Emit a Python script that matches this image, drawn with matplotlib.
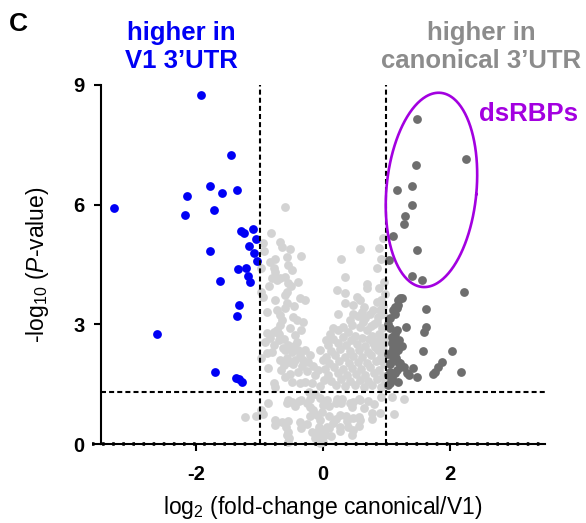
import matplotlib
matplotlib.use("Agg")
import matplotlib.pyplot as plt
import numpy as np

plt.rcParams['font.family'] = ['Liberation Sans', 'DejaVu Sans']
plt.rcParams['mathtext.fontset'] = 'custom'
plt.rcParams['mathtext.rm'] = 'Liberation Sans'
plt.rcParams['mathtext.it'] = 'Liberation Sans:italic'
plt.rcParams['mathtext.bf'] = 'Liberation Sans:bold'
plt.rcParams['axes.unicode_minus'] = False

# ---------------- data (log2 fold change, -log10 P) ----------------
blue_x = [-1.93, -1.45, -1.78, -2.15, -1.59, -1.36, -3.29, -2.17, -1.72, -1.29,
          -1.25, -1.10, -1.06, -1.17, -1.08, -1.04, -1.78, -1.34, -1.21, -1.19,
          -1.15, -1.62, -1.33, -1.35, -2.61, -1.70, -1.37, -1.32, -1.27]
blue_y = [8.74, 7.25, 6.47, 6.22, 6.30, 6.37, 5.91, 5.75, 5.86, 5.34,
          5.28, 5.39, 5.14, 4.96, 4.78, 4.58, 4.85, 4.39, 4.41, 4.20,
          4.05, 4.09, 3.48, 3.22, 2.75, 1.81, 1.66, 1.62, 1.56]

dark_x = [1.48, 2.25, 1.46, 1.40, 1.17, 1.40, 1.30, 1.28, 1.10, 1.48,
          1.41, 1.56, 1.04, 2.22, 1.21, 1.25, 1.18, 1.13, 1.11, 1.16,
          1.62, 1.06, 1.31, 1.62, 1.60, 1.14, 1.10, 1.08, 1.11, 1.57,
          2.04, 1.08, 1.13, 1.03, 1.19, 1.21, 1.27, 1.42, 1.87, 1.82,
          1.76, 1.73, 2.18, 1.32, 1.36, 1.48, 1.06, 1.13, 1.03, 1.05,
          1.19, 1.16, 1.08, 1.13, 1.19, 1.11, 1.06, 1.16, 1.08, 1.02,
          1.05, 1.20, 1.25, 1.15, 1.22, 1.05, 1.09, 1.18, 1.02, 1.14]
dark_y = [8.14, 7.15, 6.99, 6.47, 6.37, 5.99, 5.72, 5.51, 5.22, 4.87,
          4.20, 4.11, 4.61, 3.81, 3.65, 3.66, 3.60, 3.44, 3.36, 3.40,
          3.38, 3.15, 2.94, 2.94, 2.80, 2.75, 2.65, 2.52, 2.40, 2.32,
          2.32, 2.30, 2.27, 2.25, 2.06, 2.02, 1.94, 1.90, 2.05, 1.94,
          1.81, 1.75, 1.80, 1.77, 1.72, 1.69, 1.81, 1.77, 1.48, 1.52,
          3.48, 2.86, 2.69, 2.52, 2.36, 2.19, 2.02, 1.85, 1.66, 3.00,
          2.90, 2.60, 2.45, 2.15, 1.92, 2.00, 1.60, 1.55, 1.72, 3.25]

# light grey, left arm
lgA_x = [-0.60, -0.82, -0.68, -0.65, -0.52, -0.35, -0.76, -0.83, -0.56, -0.55,
         -0.49, -0.97, -0.78, -0.76, -0.81, -0.73, -0.68, -0.60, -0.39, -0.55,
         -0.97, -0.94, -0.57, -0.60, -0.36, -0.28, -0.57, -0.60, -0.68, -0.47,
         -0.41, -0.31, -0.68, -0.89, -0.78, -0.70, -0.73, -0.44, -0.83, -0.70,
         -0.41, -0.55, -0.78, -0.60, -0.89, -0.81, -0.49, -0.39, -0.28, -0.68,
         -0.57, -0.44, -0.31, -0.23, -0.97, -0.36, -0.47, -0.33, -0.20, -0.62,
         -0.60, -0.78, -0.76, -0.49, -0.36, -0.28, -0.18, -0.52, -0.40, -0.25,
         -0.12, -0.15, -0.85, -0.50, -0.45, -0.75, -0.52, -0.62, -0.92, -0.35,
         -0.65, -0.95, -0.93, -0.88, -0.72, -0.63, -0.46, -0.86, -0.66, -0.53]
lgA_y = [5.93, 5.28, 5.07, 4.95, 4.88, 4.71, 4.65, 4.57, 4.69, 4.49,
         4.36, 4.40, 4.40, 4.32, 4.15, 4.11, 4.15, 4.19, 4.07, 4.04,
         3.82, 3.69, 3.82, 3.73, 3.65, 3.61, 3.53, 3.40, 3.23, 3.19,
         3.11, 3.07, 2.98, 2.79, 2.82, 2.77, 2.86, 2.73, 2.65, 2.61,
         2.56, 2.48, 2.48, 2.36, 2.27, 2.31, 2.31, 2.36, 2.36, 2.11,
         2.15, 2.11, 2.11, 2.06, 2.15, 2.22, 2.00, 1.95, 2.22, 1.98,
         1.69, 1.52, 1.44, 1.56, 1.52, 1.56, 1.52, 1.75, 1.80, 1.82,
         1.72, 1.95, 3.95, 3.95, 3.45, 3.60, 2.90, 2.62, 2.55, 2.85,
         3.10, 5.05, 4.85, 3.30, 3.35, 2.40, 2.45, 1.90, 1.85, 2.05]

# light grey, bottom (not significant)
lgB_x = [-1.23, -1.06, -0.94, -0.86, -0.97, -0.76, -0.65, -0.55, -0.36, -0.34,
         -0.55, -0.57, -0.76, -0.58, -0.53, -0.55, -0.56, -0.44, -0.38, -0.20,
         -0.55, -0.49, -0.34, -0.26, -0.20, -0.15, -0.10, -0.05, -0.07, -0.10,
         -0.13, -0.02, -0.20, -0.25, -0.18, -0.12, -0.05, -0.22, 0.00, 0.03,
         -0.04, 0.02, 0.06, 0.00, -0.02, 0.22, 0.29, 0.48, 0.58, 0.45,
         0.64, 0.77, 0.90, 0.27, 0.37, 0.48, 0.58, 0.16, 0.27, 0.40,
         0.48, 0.06, 0.00, -0.02, 0.09, 0.21, 0.30, 0.42, 0.56, 0.71,
         0.80, 0.92, 0.21, 0.38, 0.56, 0.77, 0.09, 0.27, 0.45, 0.56,
         1.09, 1.27, 1.12, 0.10, 0.12]
lgB_y = [0.67, 0.71, 0.76, 1.02, 0.85, 0.60, 0.56, 0.58, 0.56, 0.39,
         0.31, 0.23, 0.48, 0.43, 0.15, 0.06, 1.04, 0.95, 1.09, 1.14,
         1.10, 1.06, 1.10, 1.02, 0.94, 0.85, 0.73, 0.60, 0.43, 0.31,
         0.14, 0.14, 0.70, 0.50, 0.30, 1.25, 1.15, 1.30, 0.05, 0.22,
         0.02, 0.35, 1.10, 0.98, 0.81, 1.14, 1.02, 1.06, 1.10, 0.94,
         0.89, 0.77, 0.77, 0.73, 0.69, 0.64, 0.60, 0.52, 0.43, 0.43,
         0.35, 0.43, 0.31, 0.18, 0.95, 1.04, 1.14, 1.04, 1.14, 1.09,
         1.00, 1.18, 0.62, 0.57, 0.67, 0.62, 0.41, 0.32, 0.23, 0.45,
         1.18, 1.13, 0.76, 0.70, 0.20]

# light grey, right cloud
lgC_x = [0.94, 0.58, 0.89, 0.28, 0.92, 0.85, 0.34, 0.70, 0.69, 0.22,
         0.35, 0.53, 0.58, 0.48, 0.35, 0.64, 0.85, 0.24, 0.48, 0.61,
         0.74, 0.79, 0.87, 0.85, 0.32, 0.45, 0.58, 0.11, 0.24, 0.40,
         0.50, 0.69, 0.77, 0.88, 0.93, 0.95, 0.97, 0.82, 0.90, 0.96,
         0.88, 0.66, 0.95,
         0.15, 0.31, 0.44, 0.61, 0.73, 0.86, 0.97,
         0.08, 0.23, 0.36, 0.53, 0.66, 0.79, 0.94,
         0.12, 0.27, 0.43, 0.57, 0.71, 0.86, 0.98,
         0.05, 0.19, 0.34, 0.48, 0.62, 0.76, 0.91,
         0.10, 0.26, 0.41, 0.55, 0.69, 0.83, 0.96,
         0.03, 0.17, 0.31, 0.46, 0.60, 0.74, 0.88,
         0.08, 0.23, 0.38, 0.52, 0.66, 0.80, 0.94,
         0.13, 0.28, 0.43, 0.58, 0.71, 0.85, 0.97,
         0.20, 0.35, 0.50, 0.65, 0.78, 0.92,
         -0.05, 0.00, -0.08, 0.02, -0.04, 0.15, 0.05,
         0.63, 0.80, 0.91, 0.55, 0.42, 0.75, 0.90, 0.98]
lgC_y = [5.16, 4.89, 4.92, 4.63, 4.63, 4.40, 4.18, 4.00, 3.90, 3.86,
         3.78, 3.69, 3.61, 3.48, 3.53, 3.44, 3.57, 3.27, 3.27, 3.32,
         3.27, 3.36, 3.19, 3.07, 2.94, 2.98, 2.94, 2.77, 2.86, 2.82,
         2.72, 2.85, 2.72, 2.76, 2.90, 3.45, 3.75, 2.44, 2.11, 4.05,
         3.90, 3.15, 3.25,
         2.64, 2.67, 2.61, 2.66, 2.62, 2.58, 2.67,
         2.49, 2.52, 2.47, 2.50, 2.46, 2.53, 2.48,
         2.33, 2.37, 2.32, 2.36, 2.31, 2.35, 2.30,
         2.19, 2.22, 2.17, 2.21, 2.18, 2.23, 2.17,
         2.04, 2.07, 2.02, 2.06, 2.03, 2.08, 2.01,
         1.89, 1.92, 1.87, 1.91, 1.88, 1.93, 1.86,
         1.74, 1.77, 1.72, 1.76, 1.73, 1.78, 1.71,
         1.59, 1.62, 1.57, 1.61, 1.58, 1.63, 1.56,
         1.47, 1.45, 1.49, 1.44, 1.48, 1.42,
         2.35, 2.10, 1.85, 1.60, 1.45, 2.90, 2.60,
         3.05, 3.00, 3.60, 3.20, 3.10, 2.95, 3.35, 2.55]

xticks = [-2, 0, 2]
yticks = [0, 3, 6, 9]
fc_cut = 1.0
p_cut = 1.30

# ---------------- colours ----------------
LIGHT = '#D3D3D3'
DARK = '#6E6E6E'
BLUE = '#0000F5'
PURPLE = '#A300E0'
GREYTXT = '#8C8C8C'

fig = plt.figure(figsize=(5.86, 5.23), dpi=100)
ax = fig.add_axes([101/586, 79/523, 444/586, 359/523])
ax.set_xlim(-3.5, 3.5)
ax.set_ylim(0, 9)

S = 40
for gx, gy in [(lgA_x, lgA_y), (lgB_x, lgB_y), (lgC_x, lgC_y)]:
    ax.scatter(gx, gy, s=S, c=LIGHT, linewidths=0, zorder=2, clip_on=False)
ax.scatter(dark_x, dark_y, s=S, c=DARK, linewidths=0, zorder=3, clip_on=False)
ax.scatter(blue_x, blue_y, s=S, c=BLUE, linewidths=0, zorder=3, clip_on=False)

dash = (0, (2.4, 1.5))
ax.axvline(-fc_cut, color='black', lw=1.5, ls=dash, zorder=4)
ax.axvline(fc_cut, color='black', lw=1.5, ls=dash, zorder=4)
ax.axhline(p_cut, color='black', lw=1.5, ls=dash, zorder=4)
ax.plot([-3.64, 3.5], [0, 0], color='black', lw=2.6, ls=(0, (0.7, 2.1)),
        zorder=5, clip_on=False)

# ellipse around dsRBPs (drawn in pixel-isotropic space)
ppx = 444 / 7.0
ppy = 359 / 9.0
t = np.linspace(0, 2*np.pi, 300)
a, b, th = 45.0, 97.5, np.deg2rad(-5.4)
u, v = a*np.cos(t), b*np.sin(t)
xe = 1.71 + (u*np.cos(th) - v*np.sin(th)) / ppx
ye = 6.37 + (u*np.sin(th) + v*np.cos(th)) / ppy
ax.plot(xe, ye, color=PURPLE, lw=1.9, zorder=6, clip_on=False)

for s in ['top', 'right']:
    ax.spines[s].set_visible(False)
for s in ['left', 'bottom']:
    ax.spines[s].set_linewidth(1.5)
ax.set_xticks(xticks)
ax.set_yticks(yticks)
ax.tick_params(direction='out', length=5, width=1.5, labelsize=14.5)
ax.tick_params(axis='x', pad=10)
ax.tick_params(axis='y', pad=7)
for lab in ax.get_xticklabels() + ax.get_yticklabels():
    lab.set_fontweight('bold')

ax.set_xlabel('log$_2$ (fold-change canonical/V1)', fontsize=16.5, labelpad=7)
ax.set_ylabel('-log$_{10}$ ($P$-value)', fontsize=16.5, labelpad=16)

fig.text(9/586, 1 - 24/523, 'C', fontsize=19, fontweight='bold', va='center')
fig.text(181/586, 1 - 21/523, 'higher in\nV1 3\u2019UTR', ha='center', va='top',
         color=BLUE, fontsize=18.5, fontweight='bold', linespacing=1.2)
fig.text(481/586, 1 - 21/523, 'higher in\ncanonical 3\u2019UTR', ha='center', va='top',
         color=GREYTXT, fontsize=18.5, fontweight='bold', linespacing=1.2)
fig.text(528/586, 1 - 114/523, 'dsRBPs', ha='center', va='center',
         color=PURPLE, fontsize=18.5, fontweight='bold')

fig.savefig('out.png', dpi=100)
